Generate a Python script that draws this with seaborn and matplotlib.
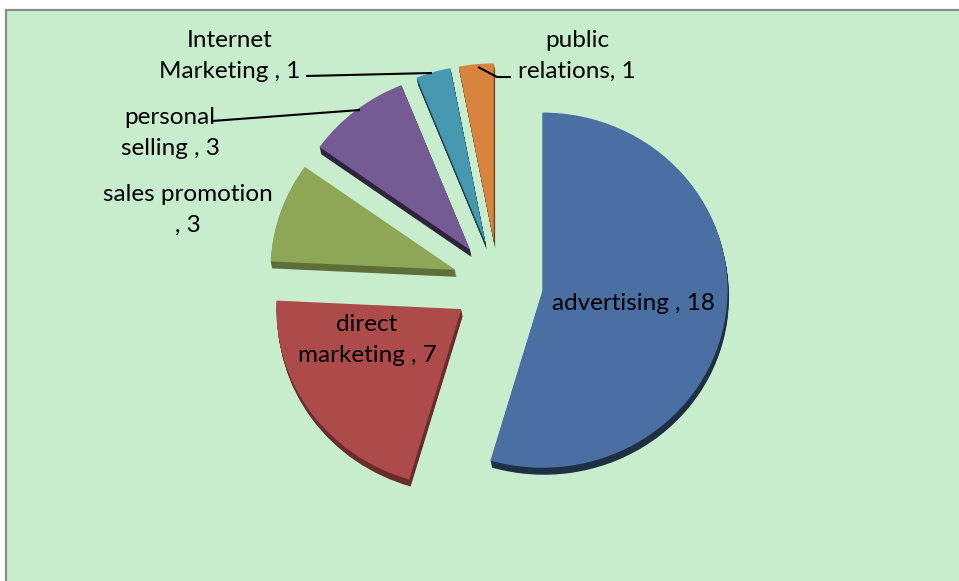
import numpy as np
import matplotlib
matplotlib.use("Agg")
import matplotlib.pyplot as plt
from matplotlib.patches import Rectangle
from matplotlib.transforms import Affine2D
import seaborn as sns

# Promotion-mix breakdown
categories = ["advertising", "direct marketing", "sales promotion",
              "personal selling", "Internet Marketing", "public relations"]
values = [18, 7, 3, 3, 1, 1]
labels = ["advertising , 18", "direct\nmarketing , 7", "sales promotion\n, 3",
          "personal\nselling , 3", "Internet\nMarketing , 1", "public\nrelations, 1"]
hex_colors = ["#4a6fa2", "#ad4b4a", "#8ea757", "#745b93", "#4598b0", "#d8843f"]
# how dark each slice's side wall is rendered
side_shade = [0.42, 0.6, 0.66, 0.4, 0.42, 0.5]

sns.set_theme(style="white")
plt.rcParams["font.family"] = ["Lato", "DejaVu Sans"]

palette = sns.color_palette(hex_colors)
side_palette = [tuple(c * f for c in col) for col, f in zip(palette, side_shade)]

W, H = 959, 581
fig = plt.figure(figsize=(W / 100, H / 100), dpi=100, facecolor="white")
ax = fig.add_axes([0, 0, 1, 1])
ax.set_facecolor("none")

# chart area with border on top/left
ax.add_patch(Rectangle((6, -20), 1100, H - 9.5 + 20, facecolor="#c8edcd",
                       edgecolor="#8a8a8a", linewidth=1.6, zorder=0))

cx, cy = 498, H - 284
R = 185
tilt = 0.96                     # slight vertical squash for the 3D view
explode = [45] * len(values)    # pie offsets in data units (1 unit = 1 px)
depth = 7

squash = Affine2D().translate(0, -cy).scale(1, tilt).translate(0, cy) + ax.transData


def draw_pie(colors, center, z):
    wedges, _ = ax.pie(values, colors=colors, startangle=90, counterclock=False,
                       radius=R, center=center, explode=explode,
                       wedgeprops=dict(linewidth=0, zorder=z))
    for w in wedges:
        w.set_transform(squash)


# extruded side of the 3D pie
for k in range(depth, 0, -1):
    draw_pie(side_palette, (cx + 0.2 * k, cy - k / tilt), 1)
# top face
draw_pie(palette, (cx, cy), 2)

# data labels
label_xy = [(633, 304), (367, 340), (188, 210), (170, 133), (230, 56), (577, 56)]
for text, (px, py) in zip(labels, label_xy):
    ax.text(px, H - py, text, ha="center", va="center", multialignment="center",
            fontsize=17.5, linespacing=1.6, color="black", zorder=5)

# leader lines
leaders = [
    [(306, 76), (432, 73)],
    [(212, 121), (360, 110)],
    [(478, 67), (497, 77), (511, 77)],
]
for pts in leaders:
    xs = [p[0] for p in pts]
    ys = [H - p[1] for p in pts]
    ax.plot(xs, ys, color="black", linewidth=1.5, zorder=5, solid_capstyle="butt")

ax.set_xlim(0, W)
ax.set_ylim(0, H)
ax.set_aspect("equal")
ax.axis("off")

fig.savefig("out.png", dpi=100, facecolor="white")
